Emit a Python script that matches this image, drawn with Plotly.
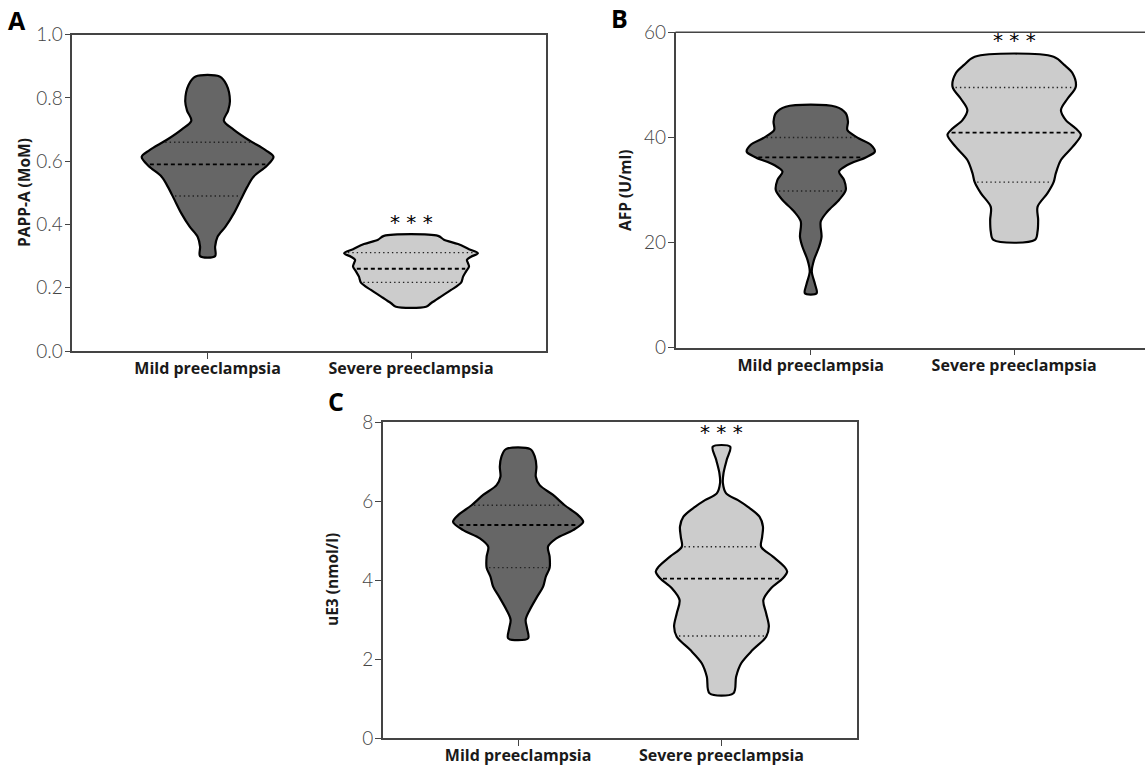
import numpy as np
import plotly.graph_objects as go

categories = ["Mild preeclampsia", "Severe preeclampsia"]

# ---- Panel A: PAPP-A (MoM) violin outlines (value, half-width in category units) ----
a_mild_y = [0.868, 0.842, 0.79, 0.76, 0.728, 0.70, 0.667, 0.635, 0.614, 0.585, 0.551, 0.519, 0.477, 0.435, 0.393, 0.361, 0.33, 0.30]
a_mild_hw = [0.059, 0.093, 0.110, 0.101, 0.080, 0.128, 0.202, 0.285, 0.324, 0.290, 0.226, 0.195, 0.162, 0.129, 0.088, 0.049, 0.037, 0.037]
a_sev_y = [0.364, 0.352, 0.338, 0.322, 0.309, 0.298, 0.288, 0.278, 0.267, 0.251, 0.235, 0.216, 0.193, 0.172, 0.151, 0.140]
a_sev_hw = [0.133, 0.162, 0.231, 0.285, 0.329, 0.295, 0.275, 0.280, 0.285, 0.270, 0.256, 0.246, 0.197, 0.147, 0.098, 0.074]
a_quart = {"mild": [0.49, 0.59, 0.66], "sev": [0.217, 0.26, 0.311]}

# ---- Panel B: AFP (U/ml) ----
b_mild_y = [45.85, 44.6, 43.0, 41.4, 39.8, 38.6, 37.3, 36.2, 34.75, 33.5, 31.9, 30.0, 28.1, 25.9, 24.0, 21.1, 19.2, 16.7, 14.5, 12.2, 10.35]
b_mild_hw = [0.123, 0.172, 0.183, 0.180, 0.237, 0.295, 0.315, 0.270, 0.180, 0.139, 0.164, 0.172, 0.139, 0.082, 0.049, 0.053, 0.041, 0.016, 0.005, 0.020, 0.029]
b_sev_y = [55.36, 53.8, 52.2, 49.65, 47.4, 45.2, 43.3, 41.7, 40.5, 38.2, 35.7, 33.2, 31.5, 29.4, 26.8, 24.3, 22.1, 20.5]
b_sev_hw = [0.194, 0.246, 0.287, 0.303, 0.263, 0.230, 0.254, 0.303, 0.328, 0.287, 0.230, 0.205, 0.194, 0.164, 0.115, 0.118, 0.115, 0.102]
b_quart = {"mild": [29.8, 36.2, 40.0], "sev": [31.5, 40.9, 49.5]}

# ---- Panel C: uE3 (nmol/l) ----
c_mild_y = [7.32, 7.13, 6.88, 6.62, 6.41, 6.16, 5.9, 5.65, 5.48, 5.27, 5.06, 4.85, 4.6, 4.32, 4.09, 3.84, 3.58, 3.25, 3.0, 2.78, 2.53]
c_mild_hw = [0.060, 0.082, 0.090, 0.087, 0.106, 0.172, 0.229, 0.295, 0.320, 0.270, 0.188, 0.147, 0.155, 0.155, 0.136, 0.123, 0.093, 0.057, 0.037, 0.044, 0.049]
c_sev_y = [7.38, 7.05, 6.71, 6.46, 6.2, 6.03, 5.86, 5.61, 5.36, 5.1, 4.85, 4.6, 4.34, 4.22, 4.05, 3.8, 3.5, 3.16, 2.83, 2.57, 2.24, 1.9, 1.56, 1.14]
c_sev_hw = [0.043, 0.026, 0.010, 0.007, 0.023, 0.081, 0.130, 0.187, 0.204, 0.200, 0.195, 0.253, 0.310, 0.323, 0.302, 0.244, 0.206, 0.220, 0.233, 0.220, 0.154, 0.097, 0.072, 0.059]
c_quart = {"mild": [4.32, 5.4, 5.9], "sev": [2.59, 4.04, 4.85]}

y_titles = ["PAPP-A (MoM)", "AFP (U/ml)", "uE3 (nmol/l)"]
panel_letters = ["A", "B", "C"]
a_ticks = [0.0, 0.2, 0.4, 0.6, 0.8, 1.0]
b_ticks = [0, 20, 40, 60]
c_ticks = [0, 2, 4, 6, 8]
star_y = [0.409, 58.6, 7.75]

MILD_FILL = "#666666"
SEV_FILL = "#cccccc"
FONT = "Open Sans"

fig = go.Figure()


def add_violin(pos, ys, hws, color, xr, yr):
    ys = list(ys)
    hws = list(hws)
    xs = [pos - h for h in hws] + [pos + h for h in hws[::-1]] + [pos - hws[0]]
    yy = ys + ys[::-1] + [ys[0]]
    fig.add_trace(go.Scatter(
        x=xs, y=yy, mode="lines", fill="toself", fillcolor=color,
        line=dict(color="black", width=2.2, shape="spline", smoothing=0.9),
        xaxis=xr, yaxis=yr, showlegend=False, hoverinfo="skip"))


def add_quart_lines(pos, ys, hws, q, xr, yr):
    yp = np.array(ys[::-1])
    hp = np.array(hws[::-1])
    for i, val in enumerate(q):
        h = float(np.interp(val, yp, hp)) - 0.012
        if i == 1:
            ln = dict(color="black", width=1.8, dash="4px,3px")
        else:
            ln = dict(color="#222222", width=1.4, dash="1.4px,3px")
        fig.add_trace(go.Scatter(x=[pos - h, pos + h], y=[val, val], mode="lines",
                                 line=ln, xaxis=xr, yaxis=yr, showlegend=False,
                                 hoverinfo="skip"))


panels = [
    ("x", "y", a_mild_y, a_mild_hw, a_sev_y, a_sev_hw, a_quart),
    ("x2", "y2", b_mild_y, b_mild_hw, b_sev_y, b_sev_hw, b_quart),
    ("x3", "y3", c_mild_y, c_mild_hw, c_sev_y, c_sev_hw, c_quart),
]
for xr, yr, my, mh, sy, sh, q in panels:
    add_violin(0, my, mh, MILD_FILL, xr, yr)
    add_violin(1, sy, sh, SEV_FILL, xr, yr)
    add_quart_lines(0, my, mh, q["mild"], xr, yr)
    add_quart_lines(1, sy, sh, q["sev"], xr, yr)

W, H = 1145, 769


def px(v):
    return v / W


def py(v):
    return 1 - v / H


axis_common = dict(showgrid=False, zeroline=False, showline=True, linecolor="#444444",
                   linewidth=1.5, ticks="outside", ticklen=6, tickcolor="#444444",
                   tickwidth=1.2, automargin=False)

xt = dict(tickvals=[0, 1], ticktext=["<b>%s</b>" % c for c in categories],
          tickfont=dict(family=FONT, size=16, color="#1a1a1a"), ticklabelstandoff=-4)
yt = dict(tickfont=dict(family="Lato, Open Sans", size=19, color="#444444", weight=300),
          ticklabelstandoff=-2)

fig.update_layout(
    template="none",
    width=W, height=H, autosize=False,
    margin=dict(l=0, r=0, t=0, b=0, pad=0),
    paper_bgcolor="white", plot_bgcolor="white",
    xaxis=dict(domain=[px(72.3), px(546.3)], range=[-0.665, 1.665], anchor="y",
               mirror=True, **axis_common, **xt),
    yaxis=dict(domain=[py(351), py(34.7)], range=[0, 1.0], anchor="x",
               tickvals=a_ticks, ticktext=["%.1f" % t for t in a_ticks],
               mirror=True, **axis_common, **yt),
    xaxis2=dict(domain=[px(675.5), 1.0], range=[-0.665, -0.665 + (W - 675.5) / 203.4],
                anchor="y2", mirror=False, **axis_common, **xt),
    yaxis2=dict(domain=[py(347.7), py(32.3)], range=[0, 60], anchor="x2",
                tickvals=b_ticks, ticktext=[str(t) for t in b_ticks],
                mirror=False, **axis_common, **yt),
    xaxis3=dict(domain=[px(382.9), px(857.3)], range=[-0.665, 1.668], anchor="y3",
                mirror=True, **axis_common, **xt),
    yaxis3=dict(domain=[py(738.3), py(422.3)], range=[0, 8], anchor="x3",
                tickvals=c_ticks, ticktext=[str(t) for t in c_ticks],
                mirror=True, **axis_common, **yt),
)

# top frame line of panel B (its right side runs off the page)
fig.add_shape(type="line", xref="x2 domain", yref="y2 domain", x0=0, x1=1.01, y0=1, y1=1,
              line=dict(color="#444444", width=1.5), layer="above")

annotations = []
# y-axis titles
title_pos = [(24, 193), (625, 190), (332, 580)]
for t, (x0, y0) in zip(y_titles, title_pos):
    annotations.append(dict(text="<b>%s</b>" % t, x=px(x0), y=py(y0), xref="paper",
                            yref="paper", textangle=-90, showarrow=False,
                            font=dict(family=FONT, size=15.5, color="#1a1a1a"),
                            xanchor="center", yanchor="middle"))
# panel letters
letter_pos = [(17, 20), (619, 18), (336, 401)]
for t, (x0, y0) in zip(panel_letters, letter_pos):
    annotations.append(dict(text="<b>%s</b>" % t, x=px(x0), y=py(y0), xref="paper",
                            yref="paper", showarrow=False,
                            font=dict(family=FONT, size=25, color="black"),
                            xanchor="center", yanchor="middle"))
# significance stars
for (xr, yr), sy in zip([("x", "y"), ("x2", "y2"), ("x3", "y3")], star_y):
    annotations.append(dict(text="* * *", x=1, y=sy, xref=xr, yref=yr, showarrow=False,
                            font=dict(family="DejaVu Sans", size=20, color="black"),
                            xanchor="center", yanchor="middle"))
fig.update_layout(annotations=annotations)

fig.write_html("out.html", config={"displayModeBar": False},
               post_script="document.body.style.margin='0';document.body.style.overflow='hidden';")
